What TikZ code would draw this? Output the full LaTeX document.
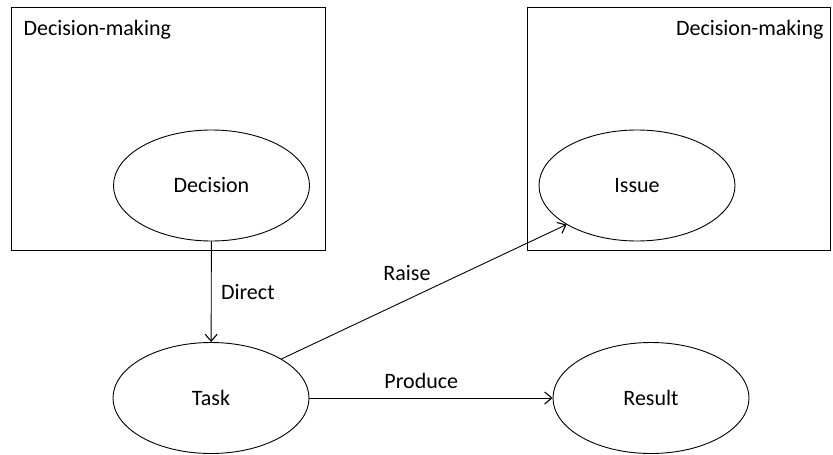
\documentclass[tikz,border=0pt]{standalone}
\usepackage{fontspec}
\setmainfont{Carlito}
\usetikzlibrary{shapes.geometric,arrows.meta}

\tikzset{
	frame/.style={draw,line width=0.9pt,minimum width=#1,minimum height=243pt,inner sep=0pt},
	blob/.style={draw,ellipse,line width=0.9pt,minimum width=196pt,minimum height=111pt,inner sep=0pt},
	link/.style={-{Straight Barb[length=7pt,width=12pt,line width=1.1pt]},line width=0.9pt},
	lbl/.style={font=\fontsize{22}{26}\selectfont}
}

\begin{document}
\begin{tikzpicture}[x=1pt,y=-1pt,lbl]
				\useasboundingbox (0,0) rectangle (833,455);
				\node[frame=314pt] (leftbox) at (168,128.5) {};
				\node[frame=303pt] (rightbox) at (678.5,128.5) {};
				\node[anchor=west] (leftname) at (20,30) {Decision-making};
				\node[anchor=east] (rightname) at (827,30) {Decision-making};
				\node[blob] (decision) at (211.5,185.5) {Decision};
				\node[blob] (issue) at (637,185.5) {Issue};
				\node[blob] (task) at (211,398) {Task};
				\node[blob] (result) at (651,398) {Result};
				\draw[link] (decision) -- (task) node[midway,right=6pt] (direct) {Direct};
				\draw[link] (task.29) -- (issue.209);
				\node (raise) at (407,273) {Raise};
				\draw[link] (task) -- (result) node[pos=0.46,above=6pt] (produce) {Produce};
			\end{tikzpicture}
\end{document}
